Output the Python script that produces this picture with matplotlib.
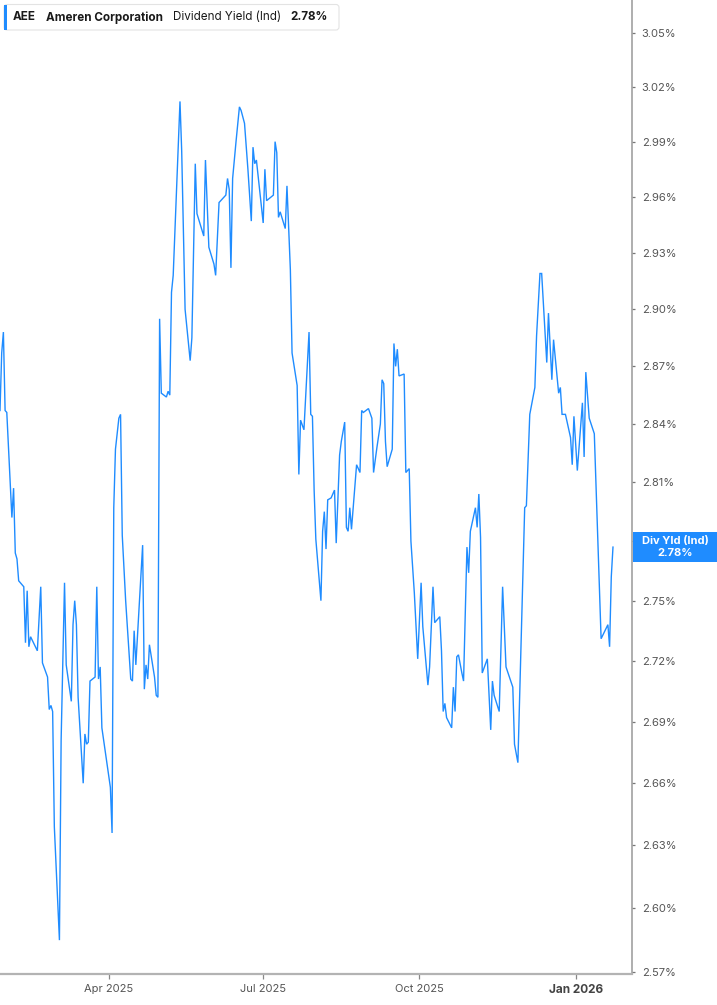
import matplotlib
matplotlib.use('Agg')
import matplotlib.pyplot as plt
import matplotlib.dates as mdates
from matplotlib.patches import FancyBboxPatch, Rectangle
from matplotlib.ticker import FixedLocator, FuncFormatter, NullLocator
from matplotlib.transforms import IdentityTransform
import pandas as pd

plt.rcParams['font.family'] = ['Inter', 'DejaVu Sans']

# ---------------- data ----------------
dates = [
    '2025-01-27', '2025-01-28', '2025-01-29', '2025-01-30', '2025-01-31',
    '2025-02-03', '2025-02-04', '2025-02-05', '2025-02-06', '2025-02-07',
    '2025-02-10', '2025-02-11', '2025-02-12', '2025-02-13', '2025-02-14',
    '2025-02-18', '2025-02-20', '2025-02-21', '2025-02-24', '2025-02-25',
    '2025-02-26', '2025-02-27', '2025-02-28', '2025-03-03', '2025-03-04',
    '2025-03-06', '2025-03-07', '2025-03-10', '2025-03-11', '2025-03-12',
    '2025-03-13', '2025-03-14', '2025-03-17', '2025-03-18', '2025-03-19',
    '2025-03-20', '2025-03-21', '2025-03-24', '2025-03-25', '2025-03-26',
    '2025-03-27', '2025-03-28', '2025-04-02', '2025-04-03', '2025-04-04',
    '2025-04-05', '2025-04-07', '2025-04-08', '2025-04-09', '2025-04-11',
    '2025-04-14', '2025-04-15', '2025-04-16', '2025-04-17', '2025-04-21',
    '2025-04-22', '2025-04-23', '2025-04-24', '2025-04-25', '2025-04-28',
    '2025-04-29', '2025-04-30', '2025-05-01', '2025-05-02', '2025-05-05',
    '2025-05-06', '2025-05-07', '2025-05-08', '2025-05-09', '2025-05-11',
    '2025-05-13', '2025-05-14', '2025-05-16', '2025-05-19', '2025-05-20',
    '2025-05-22', '2025-05-23', '2025-05-27', '2025-05-28', '2025-05-30',
    '2025-05-31', '2025-06-02', '2025-06-03', '2025-06-05', '2025-06-07',
    '2025-06-09', '2025-06-10', '2025-06-11', '2025-06-12', '2025-06-13',
    '2025-06-15', '2025-06-17', '2025-06-18', '2025-06-20', '2025-06-22',
    '2025-06-24', '2025-06-25', '2025-06-26', '2025-06-27', '2025-06-29',
    '2025-07-01', '2025-07-02', '2025-07-03', '2025-07-07', '2025-07-08',
    '2025-07-09', '2025-07-10', '2025-07-11', '2025-07-14', '2025-07-15',
    '2025-07-17', '2025-07-18', '2025-07-21', '2025-07-22', '2025-07-23',
    '2025-07-25', '2025-07-28', '2025-07-29', '2025-07-30', '2025-07-31',
    '2025-08-01', '2025-08-04', '2025-08-05', '2025-08-06', '2025-08-07',
    '2025-08-08', '2025-08-10', '2025-08-12', '2025-08-13', '2025-08-15',
    '2025-08-16', '2025-08-18', '2025-08-19', '2025-08-20', '2025-08-21',
    '2025-08-22', '2025-08-25', '2025-08-27', '2025-08-28', '2025-08-29',
    '2025-09-01', '2025-09-03', '2025-09-04', '2025-09-06', '2025-09-08',
    '2025-09-09', '2025-09-10', '2025-09-11', '2025-09-12', '2025-09-15',
    '2025-09-16', '2025-09-17', '2025-09-18', '2025-09-19', '2025-09-22',
    '2025-09-23', '2025-09-25', '2025-09-26', '2025-09-28', '2025-09-30',
    '2025-10-02', '2025-10-03', '2025-10-06', '2025-10-07', '2025-10-09',
    '2025-10-10', '2025-10-13', '2025-10-14', '2025-10-15', '2025-10-16',
    '2025-10-17', '2025-10-20', '2025-10-21', '2025-10-22', '2025-10-23',
    '2025-10-24', '2025-10-26', '2025-10-27', '2025-10-29', '2025-10-30',
    '2025-10-31', '2025-11-03', '2025-11-04', '2025-11-05', '2025-11-06',
    '2025-11-07', '2025-11-10', '2025-11-12', '2025-11-13', '2025-11-14',
    '2025-11-17', '2025-11-19', '2025-11-21', '2025-11-25', '2025-11-26',
    '2025-11-28', '2025-12-02', '2025-12-03', '2025-12-05', '2025-12-08',
    '2025-12-09', '2025-12-11', '2025-12-12', '2025-12-15', '2025-12-16',
    '2025-12-18', '2025-12-19', '2025-12-22', '2025-12-23', '2025-12-24',
    '2025-12-26', '2025-12-29', '2025-12-30', '2025-12-31', '2026-01-02',
    '2026-01-05', '2026-01-06', '2026-01-07', '2026-01-09', '2026-01-12',
    '2026-01-16', '2026-01-20', '2026-01-21', '2026-01-22', '2026-01-23',
]

div_yield = [
    2.847, 2.877, 2.888, 2.847, 2.846,
    2.792, 2.807, 2.774, 2.771, 2.760,
    2.757, 2.729, 2.755, 2.727, 2.732,
    2.725, 2.757, 2.719, 2.712, 2.696,
    2.698, 2.695, 2.639, 2.585, 2.681,
    2.759, 2.718, 2.700, 2.738, 2.750,
    2.738, 2.702, 2.660, 2.684, 2.679,
    2.680, 2.710, 2.712, 2.757, 2.711,
    2.717, 2.687, 2.658, 2.636, 2.797,
    2.827, 2.843, 2.845, 2.783, 2.750,
    2.711, 2.710, 2.735, 2.718, 2.778,
    2.706, 2.718, 2.711, 2.728, 2.712,
    2.703, 2.702, 2.895, 2.856, 2.854,
    2.857, 2.855, 2.909, 2.918, 2.965,
    3.012, 2.985, 2.900, 2.873, 2.885,
    2.978, 2.951, 2.939, 2.980, 2.933,
    2.930, 2.924, 2.918, 2.957, 2.959,
    2.961, 2.970, 2.964, 2.922, 2.970,
    2.990, 3.009, 3.007, 3.000, 2.975,
    2.947, 2.987, 2.978, 2.980, 2.963,
    2.946, 2.975, 2.958, 2.961, 2.990,
    2.984, 2.949, 2.952, 2.943, 2.966,
    2.921, 2.877, 2.860, 2.814, 2.842,
    2.837, 2.888, 2.845, 2.844, 2.806,
    2.781, 2.750, 2.785, 2.795, 2.776,
    2.801, 2.802, 2.806, 2.779, 2.824,
    2.831, 2.841, 2.787, 2.785, 2.797,
    2.786, 2.819, 2.815, 2.847, 2.846,
    2.848, 2.843, 2.815, 2.828, 2.840,
    2.863, 2.861, 2.831, 2.818, 2.827,
    2.882, 2.870, 2.879, 2.865, 2.866,
    2.815, 2.817, 2.780, 2.754, 2.721,
    2.759, 2.737, 2.708, 2.717, 2.757,
    2.739, 2.742, 2.725, 2.695, 2.699,
    2.692, 2.687, 2.707, 2.695, 2.722,
    2.723, 2.714, 2.710, 2.777, 2.764,
    2.785, 2.797, 2.787, 2.804, 2.782,
    2.714, 2.721, 2.686, 2.710, 2.703,
    2.695, 2.757, 2.717, 2.707, 2.679,
    2.670, 2.797, 2.798, 2.845, 2.859,
    2.886, 2.919, 2.919, 2.872, 2.898,
    2.863, 2.884, 2.856, 2.859, 2.845,
    2.845, 2.833, 2.819, 2.844, 2.816,
    2.851, 2.823, 2.867, 2.843, 2.835,
    2.731, 2.738, 2.727, 2.762, 2.777,
]

ytick_values = [2.57, 2.60, 2.63, 2.66, 2.69, 2.72, 2.75, 2.78, 2.81,
                2.84, 2.87, 2.90, 2.93, 2.96, 2.99, 3.02, 3.05]
xtick_dates = ['2025-04-01', '2025-07-01', '2025-10-01', '2026-01-01']
xtick_labels = ['Apr 2025', 'Jul 2025', 'Oct 2025', 'Jan 2026']

header_ticker = 'AEE'
header_name = 'Ameren Corporation'
header_metric = 'Dividend Yield (Ind)'
header_value = '2.78%'
badge_title = 'Div Yld (Ind)'
badge_value = '2.78%'

# ---------------- style ----------------
BLUE = '#1f8cff'
W, H = 717, 1005
fig = plt.figure(figsize=(W / 100, H / 100), dpi=100)
fig.patch.set_facecolor('white')

ax_right_px = 632
ax_bottom_px = 974
ax = fig.add_axes([0, 1 - ax_bottom_px / H, ax_right_px / W, ax_bottom_px / H])
ax.set_facecolor('white')

x = pd.to_datetime(dates)
ax.plot(x, div_yield, color=BLUE, lw=1.0, solid_joinstyle='miter', zorder=3)

ax.set_yscale('log')
ax.set_ylim(2.5691, 3.0682)
x_start = pd.Timestamp('2025-01-27')
ax.set_xlim(x_start, x_start + pd.Timedelta(days=372.2))

# ---------------- last value badge position ----------------
ident = IdentityTransform()
last_disp = ax.transData.transform((mdates.date2num(x[-1]), div_yield[-1]))
yc = last_disp[1]


def tick_fmt(v, pos):
    # the label hidden behind the last-value badge is not drawn
    yd = ax.transData.transform((0, v))[1]
    if abs(yd - yc) < 16:
        return ''
    return f'{v:.2f}%'


# y axis on right
ax.yaxis.tick_right()
ax.yaxis.set_major_locator(FixedLocator(ytick_values))
ax.yaxis.set_minor_locator(NullLocator())
ax.yaxis.set_major_formatter(FuncFormatter(tick_fmt))
ax.tick_params(axis='y', which='major', length=2.5, width=0.9, color='#777777',
               pad=4.5, labelsize=8, labelcolor='#555555')
ax.tick_params(axis='y', which='minor', length=0)

# x axis
ax.set_xticks(pd.to_datetime(xtick_dates))
ax.set_xticklabels(xtick_labels)
ax.xaxis.set_minor_locator(NullLocator())
ax.tick_params(axis='x', length=3.5, width=0.9, color='#888888', pad=4,
               labelsize=8, labelcolor='#555555')
lbls = ax.get_xticklabels()
lbls[-1].set_fontweight('bold')
lbls[-1].set_color('#444444')
lbls[-1].set_fontsize(8.5)

for s in ['left', 'top']:
    ax.spines[s].set_visible(False)
ax.spines['right'].set_color('#999999')
ax.spines['right'].set_linewidth(1.1)
ax.spines['bottom'].set_color('#b3b3b3')
ax.spines['bottom'].set_linewidth(1.6)
ax.grid(False)

# ---------------- header box ----------------
def py(y):
    return H - y


hdr = FancyBboxPatch((4, py(30)), 335, 25.5,
                     boxstyle='round,pad=0,rounding_size=3',
                     facecolor='white', edgecolor='#e3e3e3', lw=0.8,
                     transform=ident, zorder=10)
fig.add_artist(hdr)
fig.add_artist(Rectangle((4, py(30)), 3, 25.5, facecolor=BLUE, edgecolor='none',
                         transform=ident, zorder=11))
hy = 1 - 17.5 / H
HFS = 8.4
fig.text(13 / W, hy, header_ticker, fontsize=HFS, fontweight='bold', color='#1a1a1a',
         va='center', ha='left', zorder=12)
fig.text(46.5 / W, hy, header_name, fontsize=HFS, fontweight='bold', color='#1a1a1a',
         va='center', ha='left', zorder=12)
fig.text(173 / W, hy, header_metric, fontsize=HFS, color='#1a1a1a',
         va='center', ha='left', zorder=12)
fig.text(290 / W, hy, header_value, fontsize=HFS, fontweight='bold', color='#1a1a1a',
         va='center', ha='left', zorder=12)

# ---------------- last value badge ----------------
fig.add_artist(Rectangle((633, yc - 15), 84, 30, facecolor=BLUE, edgecolor='none',
                         transform=ident, zorder=10))
fig.text(675 / W, (yc + 6) / H, badge_title, fontsize=8, fontweight='bold',
         color='white', ha='center', va='center', zorder=11)
fig.text(675 / W, (yc - 5.5) / H, badge_value, fontsize=8, fontweight='bold',
         color='white', ha='center', va='center', zorder=11)

fig.savefig('out.png', dpi=100, facecolor='white')
